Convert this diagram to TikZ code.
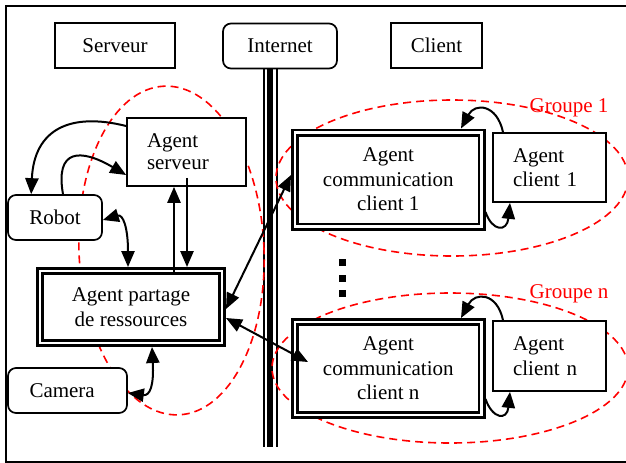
\documentclass[tikz,border=0pt]{standalone}
\usepackage{fontspec}
\setmainfont{Liberation Serif}
\usetikzlibrary{arrows.meta,calc}

\begin{document}
\begin{tikzpicture}[x=0.5pt,y=-0.5pt,
  txt/.style={font=\fontsize{10.5}{12.3}\selectfont},
  box/.style={draw, line width=0.85pt, fill=white, inner sep=0pt, txt, align=center},
  rbox/.style={box, rounded corners=4pt},
  lbox/.style={box, align=left, inner xsep=10pt},
  dbox/.style={draw, line width=1.4pt, double=white, double distance=1.2pt,
    fill=white, inner sep=0pt, outer sep=2pt, txt, align=center},
  tip/.tip={Triangle[length=8pt,width=6.6pt]},
  conn/.style={line width=1pt, -tip},
  both/.style={line width=1pt, tip-tip},
  grp/.style={draw=red, line width=0.8pt, dash pattern=on 4pt off 2.5pt},
  grplabel/.style={text=red, txt, inner sep=0pt},
  pipe/.style={line width=#1}
]
\useasboundingbox (0,0) rectangle (626,462);

% outer frame
\draw[line width=1pt] (640,6) -- (6,6) -- (6,462) -- (640,462);

% column headers
\node[box, minimum width=60pt, minimum height=22.5pt] (serveur) at (115,45.5) {Serveur};
\node[box, rounded corners=4pt, minimum width=57pt, minimum height=22.5pt] (internet) at (280,46) {Internet};
\node[box, minimum width=45.5pt, minimum height=22.5pt] (client) at (436.5,45.5) {Client};

% the Internet pipe
\coordinate (pipebot) at (270,447);
\foreach \dx/\w in {-6.5/1pt, 0/3pt, 6.5/1pt}
  \draw[pipe=\w] ($(internet.south)+(\dx-10,0)$) -- ($(pipebot)+(\dx,0)$);

% groups
\draw[grp, rotate around={2.6:(171.5,250.5)}] (171.5,250.5) ellipse [x radius=92.5, y radius=164.5];
\draw[grp] (452,178) ellipse [x radius=176, y radius=78];
\draw[grp] (450,368) ellipse [x radius=178, y radius=75];

% server side
\node[lbox, font=\fontsize{10.5}{11}\selectfont, text width=39.5pt, minimum height=34pt] (aserv) at (186.5,152) {Agent\\serveur};
\node[rbox, minimum width=47pt, minimum height=22.5pt] (robot) at (55,217.5) {Robot};
\node[dbox, minimum width=91pt, minimum height=36pt] (partage) at (131,307) {Agent partage\\de ressources};
\node[rbox, align=left, inner xsep=10.75pt, text width=38pt, minimum height=22.5pt] (camera) at (67.5,390.5) {Camera};

% client side
\node[dbox, minimum width=93.25pt, minimum height=47pt] (comm1) at (388.25,179.5) {Agent\\communication\\client 1};
\node[lbox, text width=36.5pt, minimum height=34.5pt] (aclient1) at (549.5,167.5) {Agent\\client 1};
\node[dbox, minimum width=93.25pt, minimum height=46.5pt] (commn) at (388.25,368.5) {Agent\\communication\\client n};
\node[lbox, text width=36.5pt, minimum height=35pt] (aclientn) at (549.5,356) {Agent\\client n};

\node[grplabel] (g1) at (569,108) {Groupe 1};
\node[grplabel] (gn) at (569,294) {Groupe n};

% ellipsis between the groups
\foreach \y in {262,278,293}
  \fill (338.5,\y-3.5) rectangle ++(7,7);

% server side links
\draw[conn] ($(aserv.west)+(0,-26)$) .. controls +(-56,-14) and +(3,-65) .. ($(robot.north west)+(24,0)$);
\draw[conn] ($(robot.north)+(8,0)$) .. controls +(-8,-45) and +(-46,-27) .. ($(aserv.west)+(0,23)$);
\draw[both] ($(robot.east)+(0,2.5)$) .. controls +(20,-6) and +(0,-40) .. ($(partage.north)+(-3,0)$);
\draw[conn] ($(partage.north)+(43,6)$) -- ($(aserv.south)+(-12.5,0)$);
\draw[conn] ($(aserv.south)+(0.5,-9)$) -- ($(partage.north)+(56,0)$);
\draw[both] ($(camera.east)+(0,2.5)$) .. controls +(22,3) and +(2,39) .. ($(partage.south)+(21,0)$);

% links across the Internet
\draw[both] ($(partage.east)+(0,2)$) -- ($(comm1.west)+(0,-4.5)$);
\draw[both] ($(partage.east)+(0,11)$) -- ($(commn.west)+(17,-6.5)$);

% client side links
\draw[conn] ($(aclient1.north)+(-46.5,0)$) .. controls +(-6,-28) and +(14,-26) .. ($(comm1.north)+(72.75,0)$);
\draw[conn] ($(comm1.east)+(0,32.5)$) .. controls +(7,20) and +(-3,29) .. ($(aclient1.south)+(-39.5,0)$);
\draw[conn] ($(aclientn.north)+(-46.5,0)$) .. controls +(-6,-28) and +(14,-26) .. ($(commn.north)+(72.75,0)$);
\draw[conn] ($(commn.east)+(0,30.5)$) .. controls +(7,20) and +(-3,29) .. ($(aclientn.south)+(-39.5,0)$);
\end{tikzpicture}
\end{document}
